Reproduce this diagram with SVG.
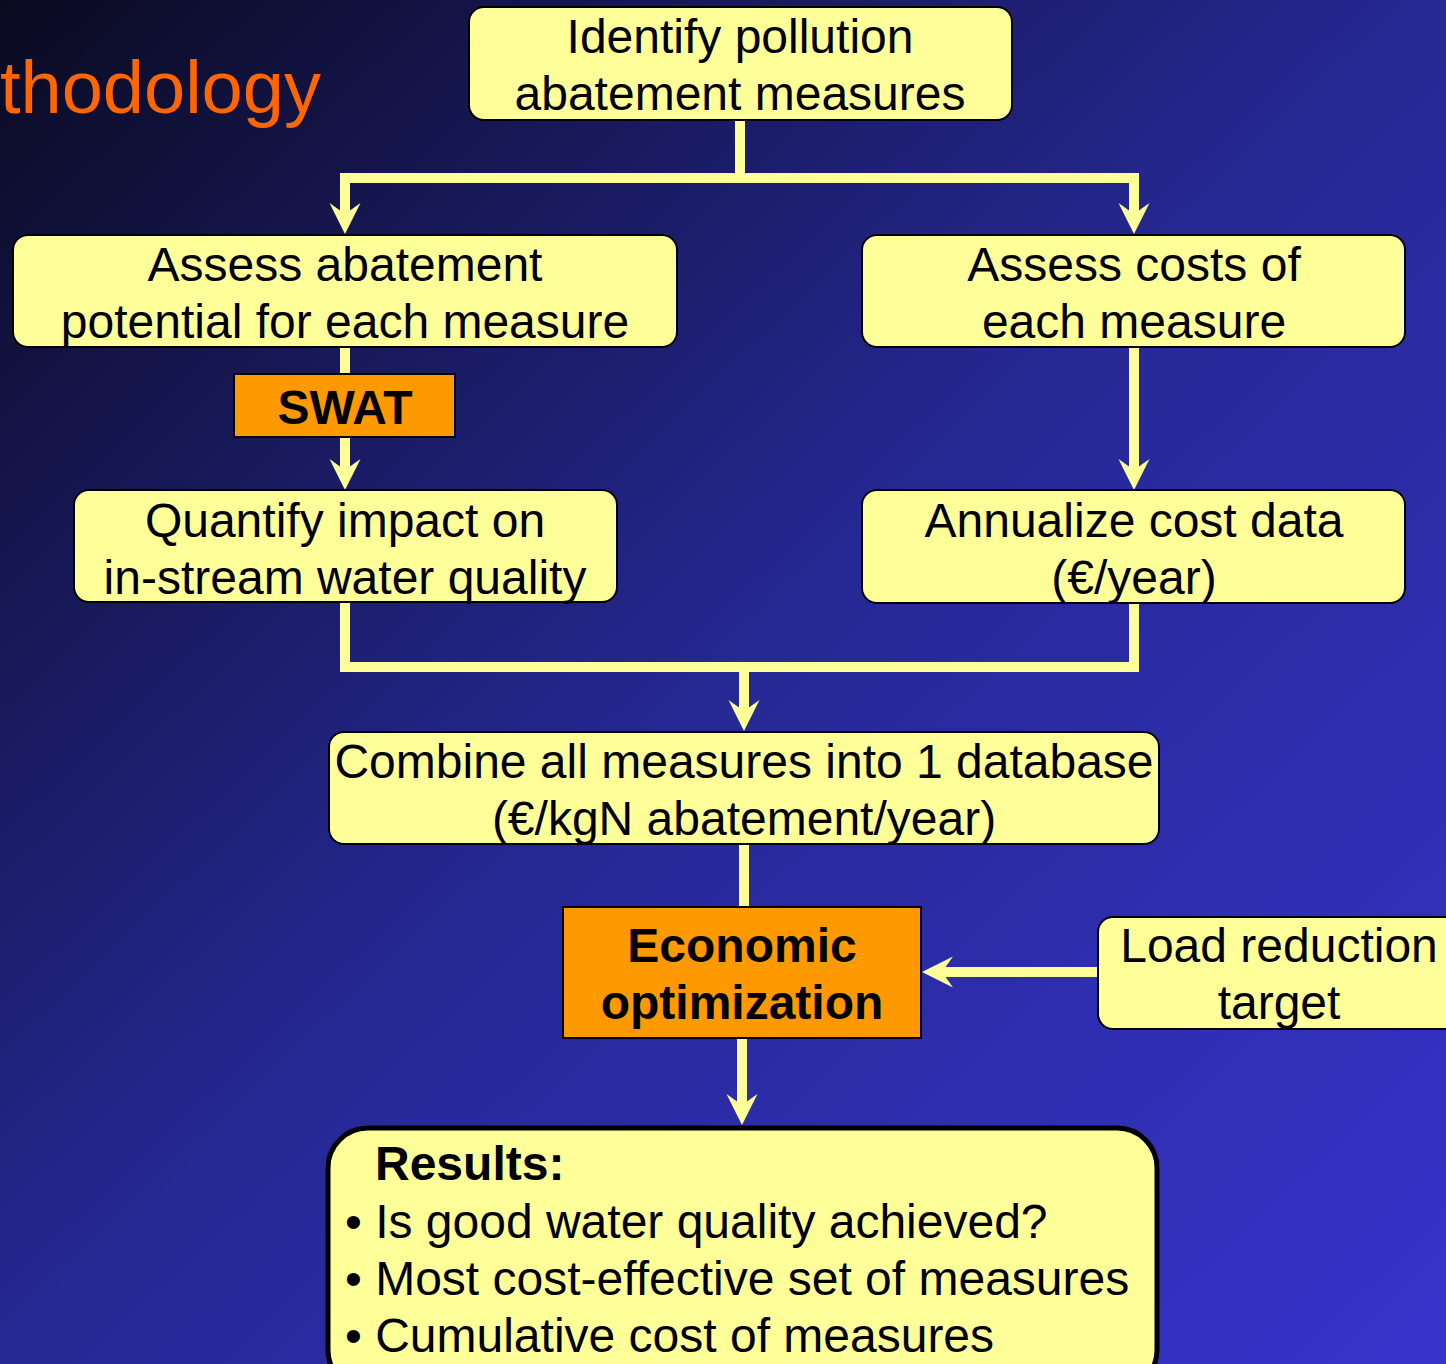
<svg xmlns="http://www.w3.org/2000/svg" width="1446" height="1364" viewBox="0 0 1446 1364">
<defs>
<linearGradient id="bg" x1="0" y1="0" x2="1" y2="1">
<stop offset="0" stop-color="#0a0a20"/>
<stop offset="0.5" stop-color="#262894"/>
<stop offset="1" stop-color="#3634cc"/>
</linearGradient>
<marker id="ah" markerUnits="userSpaceOnUse" markerWidth="40" markerHeight="40" viewBox="-15 -20 40 40" refX="0" refY="0" orient="auto">
<path d="M20,0 L-11,-15.5 L0,0 L-11,15.5 Z" fill="#ffff99"/>
</marker>
<style>
.box{fill:#ffff99;stroke:#000;stroke-width:2}
.obox{fill:#ff9900;stroke:#000;stroke-width:2}
.t{font-family:"Liberation Sans",Arial,sans-serif;font-size:48px;fill:#000;text-anchor:middle}
.b{font-weight:bold}
.l{text-anchor:start}
.c{fill:none;stroke:#ffff99;stroke-width:10;stroke-linejoin:miter}
.ca{fill:none;stroke:#ffff99;stroke-width:10;marker-end:url(#ah)}
</style>
</defs>
<rect x="0" y="0" width="1446" height="1364" fill="url(#bg)"/>
<text x="0" y="113" font-family="Liberation Sans, Arial, sans-serif" font-size="74" fill="#ff6600">thodology</text>
<g id="connectors">
<path class="ca" d="M740,120 V178 H345 V214"/>
<path class="ca" d="M740,178 H1134 V214"/>
<path class="c" d="M345,347 V374"/>
<path class="ca" d="M345,437 V470"/>
<path class="ca" d="M1134,347 V470"/>
<path class="c" d="M345,602 V667 H1134 V602"/>
<path class="ca" d="M744,667 V711"/>
<path class="c" d="M744,844 V907"/>
<path class="ca" d="M1098,972 H942"/>
<path class="ca" d="M742,1038 V1105"/>
</g>
<g id="n1"><rect class="box" x="469" y="7" width="543" height="113" rx="15"/>
<text class="t" x="740" y="53">Identify pollution</text><text class="t" x="740" y="110">abatement measures</text></g>
<g id="n2"><rect class="box" x="13" y="235" width="664" height="112" rx="15"/>
<text class="t" x="345" y="281">Assess abatement</text><text class="t" x="345" y="338">potential for each measure</text></g>
<g id="n3"><rect class="box" x="862" y="235" width="543" height="112" rx="15"/>
<text class="t" x="1134" y="281">Assess costs of</text><text class="t" x="1134" y="338">each measure</text></g>
<g id="swat"><rect class="obox" x="234" y="374" width="221" height="63"/>
<text class="t b" x="345" y="424">SWAT</text></g>
<g id="n4"><rect class="box" x="74" y="490" width="543" height="112" rx="15"/>
<text class="t" x="345" y="537">Quantify impact on</text><text class="t" x="345" y="594">in-stream water quality</text></g>
<g id="n5"><rect class="box" x="862" y="490" width="543" height="113" rx="15"/>
<text class="t" x="1134" y="537">Annualize cost data</text><text class="t" x="1134" y="594">(€/year)</text></g>
<g id="n6"><rect class="box" x="329" y="732" width="830" height="112" rx="15"/>
<text class="t" x="744" y="778">Combine all measures into 1 database</text><text class="t" x="744" y="835">(€/kgN abatement/year)</text></g>
<g id="econ"><rect class="obox" x="563" y="907" width="358" height="131"/>
<text class="t b" x="742" y="962">Economic</text><text class="t b" x="742" y="1019">optimization</text></g>
<g id="load"><rect class="box" x="1098" y="917" width="370" height="112" rx="15"/>
<text class="t" x="1279" y="962">Load reduction</text><text class="t" x="1279" y="1019">target</text></g>
<g id="results"><rect x="328" y="1128" width="829" height="262" rx="40" fill="#ffff99" stroke="#000" stroke-width="5"/>
<text class="t b l" x="375" y="1180">Results:</text>
<text class="t l" x="345" y="1238">• Is good water quality achieved?</text>
<text class="t l" x="345" y="1295">• Most cost-effective set of measures</text>
<text class="t l" x="345" y="1352">• Cumulative cost of measures</text></g>
</svg>
